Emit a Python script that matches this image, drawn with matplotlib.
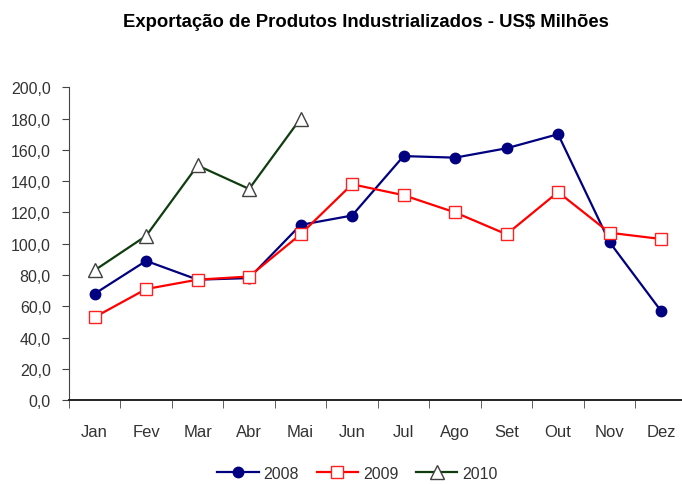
import numpy as np
import matplotlib.pyplot as plt

plt.rcParams['font.family'] = ['Liberation Sans', 'DejaVu Sans']

meses = ["Jan", "Fev", "Mar", "Abr", "Mai", "Jun", "Jul", "Ago", "Set", "Out", "Nov", "Dez"]
v2008 = [68, 89, 77, 78, 112, 118, 156, 155, 161, 170, 101, 57]
v2009 = [53, 71, 77, 79, 106, 138, 131, 120, 106, 133, 107, 103]
v2010 = [83, 105, 150, 135, 180]
yticks = np.arange(0, 201, 20)

fig = plt.figure(figsize=(6.82, 4.85), dpi=100)
ax = fig.add_axes([0.101, 0.173, 0.906, 0.645])

x = np.arange(len(meses))
ax.plot(x, v2008, color='#000080', marker='o', markersize=7.5, linewidth=1.6, label='2008')
ax.plot(x, v2009, color='#ff0000', marker='s', markersize=9, markerfacecolor='white',
        markeredgecolor='#ff2020', linewidth=1.6, label='2009')
ax.plot(x[:len(v2010)], v2010, color='#0f3d0f', marker='^', markersize=9.5, markerfacecolor='white',
        markeredgecolor='#404040', linewidth=1.6, label='2010')

ax.set_xlim(-0.5, len(meses) - 0.5)
ax.set_ylim(0, 200)
ax.set_yticks(yticks)
ax.set_yticklabels([f"{v:.1f}".replace('.', ',') for v in yticks], fontsize=11.5, color='#333333')
ax.set_xticks(x)
ax.set_xticklabels(meses, fontsize=12, color='#333333')
ax.tick_params(axis='x', length=0, pad=17)
ax.set_xticks(np.arange(-0.5, len(meses)), minor=True)
ax.tick_params(axis='x', which='minor', length=6, direction='out', color='#444444')
ax.tick_params(axis='y', length=5, direction='out', color='#444444', pad=8)

for s in ['top', 'right']:
    ax.spines[s].set_visible(False)
ax.spines['left'].set_color('#444444')
ax.spines['bottom'].set_color('#222222')
ax.spines['bottom'].set_linewidth(1.4)

fig.text(0.537, 0.953, "Exportação de Produtos Industrializados - US$ Milhões",
         ha='center', va='center', fontsize=13.3, fontweight='bold')

leg = fig.legend(loc='center', bbox_to_anchor=(0.524, 0.022), ncol=3, frameon=False,
                 fontsize=11.5, handlelength=2.6, columnspacing=1.1, handletextpad=0.3)
for t in leg.get_texts():
    t.set_color('#333333')

fig.savefig('out.png', dpi=100)
